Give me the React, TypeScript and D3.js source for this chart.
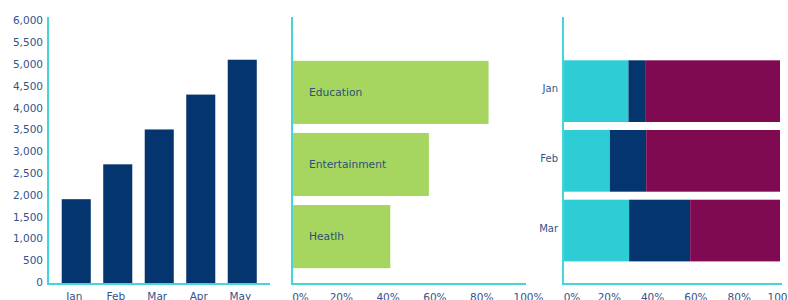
import { useRef, useEffect, FC } from 'react';
import * as d3 from 'd3';

// chart 1 - monthly totals
const months = ['Jan', 'Feb', 'Mar', 'Apr', 'May'];
const totals = [1900, 2700, 3500, 4300, 5100];
const totalTicks = d3.range(0, 6001, 500);

// chart 2 - share by category
const categories = ['Education', 'Entertainment', 'Heatlh'];
const shares = [0.84, 0.585, 0.42];

// chart 3 - stacked 100% split
const stackMonths = ['Jan', 'Feb', 'Mar'];
const partA = [0.30, 0.214, 0.303];
const partB = [0.077, 0.168, 0.282];
const partC = [0.623, 0.618, 0.415];
const pctTicks = [0, 0.2, 0.4, 0.6, 0.8, 1];

const NAVY = '#04356f';
const CYAN = '#2ecdd5';
const PURPLE = '#800a51';
const GREEN = '#a6d660';
const AXIS = '#44d4dc';
const TEXT = '#33538a';
const FONT = '"DejaVu Sans", sans-serif';

const App: FC = () => {
    const svgRef = useRef<SVGSVGElement | null>(null);
    const w = 788;
    const h = 300;

    useEffect(() => {
        if (!svgRef.current) return;
        const svg = d3.select(svgRef.current);
        svg.selectAll('*').remove();

        const axisLine = (x1: number, y1: number, x2: number, y2: number) =>
            svg.append('line')
                .attr('x1', x1).attr('y1', y1)
                .attr('x2', x2).attr('y2', y2)
                .attr('stroke', AXIS)
                .attr('stroke-width', 2);

        // ---- chart 1
        const x1 = d3.scaleBand<string>()
            .domain(months)
            .range([55.5, 263])
            .paddingInner(0.3)
            .paddingOuter(0.15);
        const y1 = d3.scaleLinear().domain([0, 6000]).range([282, 20.5]);

        svg.append('g')
            .selectAll('rect')
            .data(totals)
            .join('rect')
            .attr('x', (_d, i) => x1(months[i])!)
            .attr('width', x1.bandwidth())
            .attr('y', d => y1(d))
            .attr('height', d => 284 - y1(d))
            .attr('fill', NAVY);

        const yAxis1 = d3.axisLeft(y1)
            .tickValues(totalTicks)
            .tickSize(0)
            .tickPadding(0)
            .tickFormat(d => d3.format(',')(d as number));
        const gy1 = svg.append('g').attr('transform', 'translate(43,0)').call(yAxis1);
        gy1.select('.domain').remove();
        gy1.selectAll('text').attr('fill', TEXT).style('font-family', FONT).style('font-size', '10.5px');

        svg.append('g')
            .selectAll('text')
            .data(months)
            .join('text')
            .attr('x', d => x1(d)! + x1.bandwidth() / 2 - 2)
            .attr('y', 300)
            .attr('text-anchor', 'middle')
            .attr('fill', TEXT)
            .style('font-family', FONT)
            .style('font-size', '10.5px')
            .text(d => d);

        axisLine(48, 17, 48, 285);
        axisLine(47, 284, 270, 284);

        // ---- chart 2
        const x2 = d3.scaleLinear().domain([0, 1]).range([292, 526]);
        const y2 = d3.scaleBand<string>()
            .domain(categories)
            .range([56.5, 272.5])
            .paddingInner(0.125)
            .paddingOuter(0.06);

        svg.append('g')
            .selectAll('rect')
            .data(shares)
            .join('rect')
            .attr('x', x2(0))
            .attr('y', (_d, i) => y2(categories[i])!)
            .attr('width', d => x2(d) - x2(0))
            .attr('height', y2.bandwidth())
            .attr('fill', GREEN);

        svg.append('g')
            .selectAll('text')
            .data(categories)
            .join('text')
            .attr('x', x2(0) + 17)
            .attr('y', d => y2(d)! + y2.bandwidth() / 2)
            .attr('dy', '0.35em')
            .attr('fill', '#2f4f78')
            .style('font-family', FONT)
            .style('font-size', '10.7px')
            .text(d => d);

        const pctAxis = (g: d3.Selection<SVGGElement, unknown, null, undefined>, scale: d3.ScaleLinear<number, number>) => {
            g.call(d3.axisBottom(scale)
                .tickValues(pctTicks)
                .tickSize(0)
                .tickPadding(0)
                .tickFormat(d => d3.format('.0%')(d as number)));
            g.select('.domain').remove();
            g.selectAll<SVGTextElement, number>('text')
                .attr('dy', 0)
                .attr('dx', d => (d === 0 ? 8 : 2))
                .attr('fill', TEXT)
                .style('font-family', FONT)
                .style('font-size', '10.5px');
        };
        pctAxis(svg.append('g').attr('transform', 'translate(0,300.5)'), x2);

        axisLine(292, 17, 292, 285);
        axisLine(291, 284, 526, 284);

        // ---- chart 3
        const x3 = d3.scaleLinear().domain([0, 1]).range([563.5, 780]);
        const y3 = d3.scaleBand<string>()
            .domain(stackMonths)
            .range([56.3, 265.4])
            .paddingInner(0.115)
            .paddingOuter(0.0575);

        const rows = stackMonths.map((m, i) => ({ month: m, a: partA[i], b: partB[i], c: partC[i] }));
        const stack = d3.stack<{ month: string; a: number; b: number; c: number }>()
            .keys(['a', 'b', 'c'])(rows);
        const colors = [CYAN, NAVY, PURPLE];

        svg.append('g')
            .selectAll('g')
            .data(stack)
            .join('g')
            .attr('fill', (_d, i) => colors[i])
            .selectAll('rect')
            .data(d => d)
            .join('rect')
            .attr('x', d => x3(d[0]))
            .attr('width', d => x3(d[1]) - x3(d[0]))
            .attr('y', d => y3(d.data.month)!)
            .attr('height', y3.bandwidth());

        const yAxis3 = d3.axisLeft(y3).tickSize(0).tickPadding(0);
        const gy3 = svg.append('g').attr('transform', 'translate(558,-2)').call(yAxis3);
        gy3.select('.domain').remove();
        gy3.selectAll('text').attr('fill', TEXT).style('font-family', FONT).style('font-size', '10px');

        pctAxis(svg.append('g').attr('transform', 'translate(0,300.5)'), x3);

        axisLine(563, 17, 563, 285);
        axisLine(562, 284, 782, 284);
    }, []);

    return (
        <svg
            ref={svgRef}
            width={w}
            height={h}
            style={{ position: 'fixed', left: 0, top: 0, background: '#fff' }}
        ></svg>
    );
};

export default App;
